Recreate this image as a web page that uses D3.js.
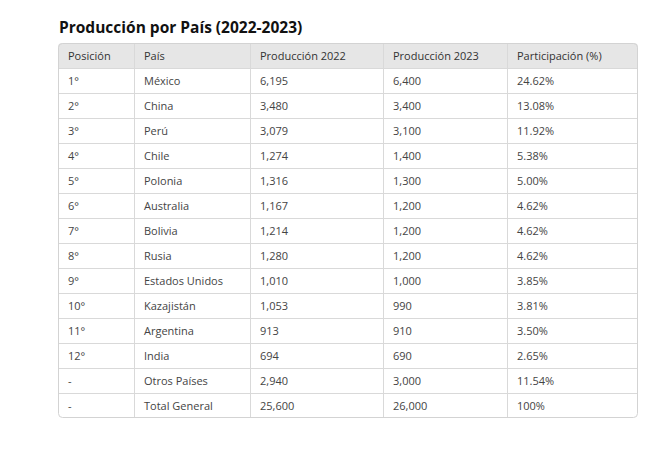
<!DOCTYPE html>
<html><head><meta charset="utf-8">
<script src="https://cdn.jsdelivr.net/npm/d3@7"></script>
<style>body{margin:0;background:#fff;font-family:"Open Sans","Noto Sans",sans-serif;}</style>
</head><body>
<script>
const headers = ["Posición", "País", "Producción 2022", "Producción 2023", "Participación (%)"];
const positions = ["1°","2°","3°","4°","5°","6°","7°","8°","9°","10°","11°","12°","-","-"];
const countries = ["México","China","Perú","Chile","Polonia","Australia","Bolivia","Rusia","Estados Unidos","Kazajistán","Argentina","India","Otros Países","Total General"];
const prod2022 = ["6,195","3,480","3,079","1,274","1,316","1,167","1,214","1,280","1,010","1,053","913","694","2,940","25,600"];
const prod2023 = ["6,400","3,400","3,100","1,400","1,300","1,200","1,200","1,200","1,000","990","910","690","3,000","26,000"];
const shares = ["24.62%","13.08%","11.92%","5.38%","5.00%","4.62%","4.62%","4.62%","3.85%","3.81%","3.50%","2.65%","11.54%","100%"];

const width = 668, height = 449,
    tLeft = 58, tRight = 638, tTop = 43, tBottom = 418,
    colEdges = [58, 134, 250, 383, 507, 638],
    svg = d3.select("body").append("svg").attr("width", width).attr("height", height);

svg.append("text").attr("x", 59).attr("y", 33)
    .style("font-size", "15.5px").style("font-weight", "bold").attr("fill", "#111")
    .text("Producción por País (2022-2023)");

const rows = [headers].concat(positions.map((p, i) => [p, countries[i], prod2022[i], prod2023[i], shares[i]]));
const y = d3.scaleBand().domain(d3.range(rows.length)).range([tTop, tBottom]);

svg.append("clipPath").attr("id", "c").append("rect")
    .attr("x", tLeft).attr("y", tTop).attr("width", tRight - tLeft).attr("height", tBottom - tTop).attr("rx", 4);
const g = svg.append("g").attr("clip-path", "url(#c)");

g.append("rect").attr("x", tLeft).attr("y", tTop).attr("width", tRight - tLeft).attr("height", y.bandwidth()).attr("fill", "#e6e6e6");

// row and column lines
g.selectAll(".hl").data(d3.range(1, rows.length)).join("line")
    .attr("x1", tLeft).attr("x2", tRight).attr("y1", d => y(d) + 0.5).attr("y2", d => y(d) + 0.5)
    .attr("stroke", "#d9d9d9");
g.selectAll(".vl").data(colEdges.slice(1, -1)).join("line")
    .attr("x1", d => d + 0.5).attr("x2", d => d + 0.5).attr("y1", tTop).attr("y2", tBottom)
    .attr("stroke", "#d9d9d9");

svg.append("rect").attr("x", tLeft + 0.5).attr("y", tTop + 0.5).attr("width", tRight - tLeft - 1).attr("height", tBottom - tTop - 1)
    .attr("rx", 4).attr("fill", "none").attr("stroke", "#d3d3d3");

rows.forEach((r, i) => {
    svg.selectAll(null).data(r).enter().append("text")
        .attr("x", (d, j) => colEdges[j] + 10)
        .attr("y", y(i) + y.bandwidth() / 2 + 4)
        .style("font-size", "11px")
        .attr("fill", i === 0 ? "#333" : "#444")
        .text(d => d);
});
</script>
</body></html>
